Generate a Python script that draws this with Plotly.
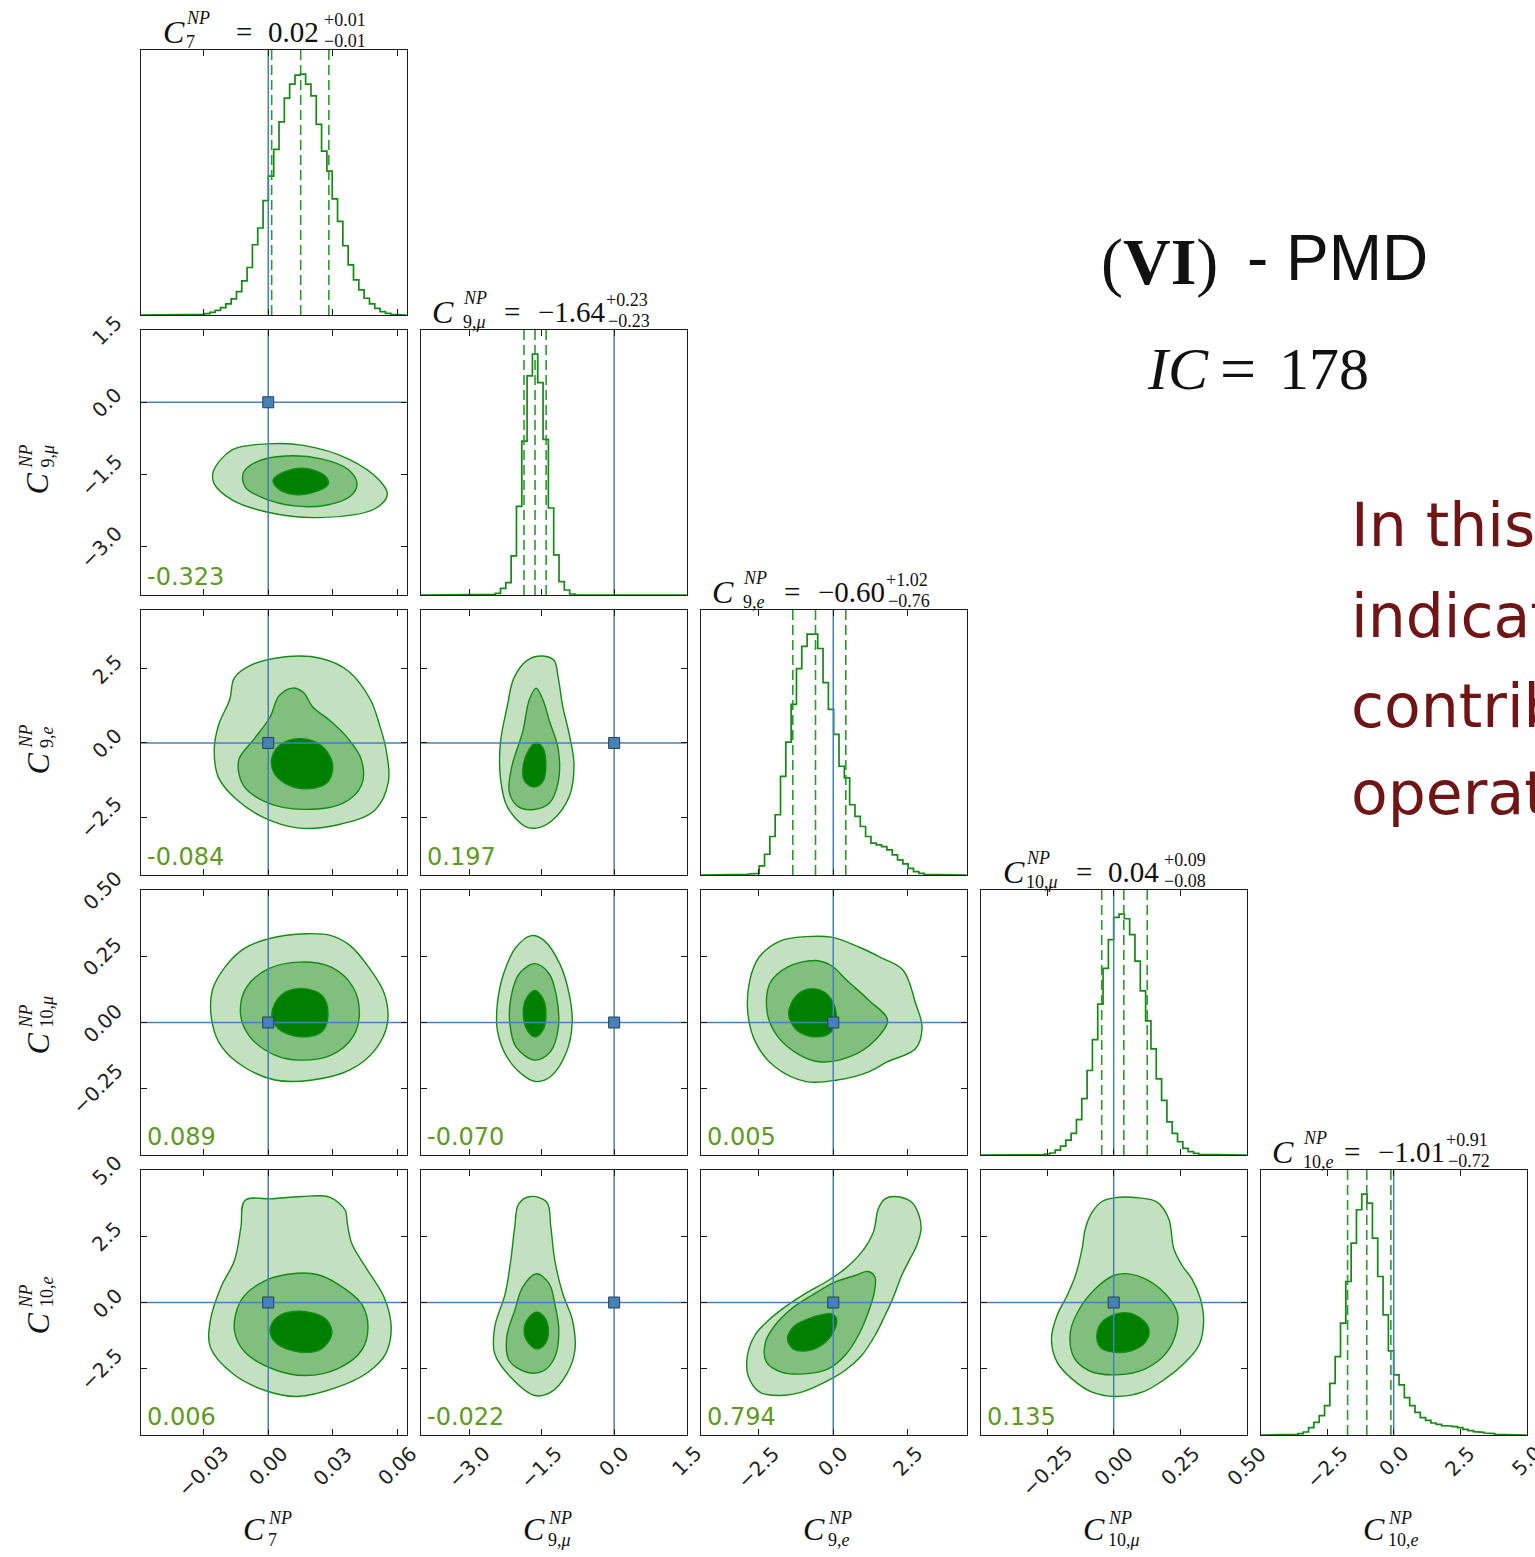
import numpy as np
import plotly.graph_objects as go

W, H = 1535, 1557

# ---------------------------------------------------------------- data
sub_labels = ["7", "9,<i>μ</i>", "9,<i>e</i>", "10,<i>μ</i>", "10,<i>e</i>"]
sub_len = [10, 24, 23, 34, 33]
limits = [[-0.0593, 0.0644], [-4.0, 1.5], [-4.45, 4.48], [-0.5, 0.5], [-5.0, 5.0]]
tick_values = [[-0.03, 0.0, 0.03, 0.06], [-3.0, -1.5, 0.0, 1.5], [-2.5, 0.0, 2.5],
               [-0.25, 0.0, 0.25, 0.5], [-2.5, 0.0, 2.5, 5.0]]
tick_labels = [["−0.03", "0.00", "0.03", "0.06"], ["−3.0", "−1.5", "0.0", "1.5"],
               ["−2.5", "0.0", "2.5"], ["−0.25", "0.00", "0.25", "0.50"],
               ["−2.5", "0.0", "2.5", "5.0"]]
truth = [0.0, 0.0, 0.0, 0.0, 0.0]

median = [0.0151, -1.636, -0.596, 0.038, -1.012]
err_hi = [0.0131, 0.230, 1.018, 0.088, 0.906]
err_lo = [0.0135, 0.228, 0.762, 0.083, 0.722]

# 1D marginal histograms (50 bins spanning each parameter's plot limits)
hist_c7 = [0, 0, 0, 0, 0, 0, 1, 1, 1, 1, 2, 2, 4, 8, 14, 22, 33, 48, 70, 102,
           142, 210, 260, 342, 415, 495, 577, 648, 690, 717, 720, 690, 655, 570, 490, 430,
           347, 280, 207, 150, 105, 75, 50, 33, 20, 10, 5, 2, 0, 0]
hist_c9mu = [0, 0, 0, 0, 0, 0, 0, 0, 0, 0, 0, 0, 0, 2, 5, 20, 37, 117, 265, 460,
             655, 720, 635, 465, 260, 120, 40, 15, 3, 0, 0, 0, 0, 0, 0, 0,
             0, 0, 0, 0, 0, 0, 0, 0, 0, 0, 0, 0, 0, 0]
hist_c9e = [0, 0, 0, 0, 0, 0, 0, 1, 2, 3, 5, 27, 62, 115, 180, 295, 397, 510, 617, 683,
            720, 720, 677, 575, 495, 420, 325, 290, 210, 175, 145, 115, 95, 90, 85, 75,
            60, 45, 33, 20, 10, 5, 2, 1, 0, 0, 0, 0, 0, 0]
hist_c10mu = [0, 0, 0, 0, 0, 0, 0, 0, 0, 0, 0, 1, 3, 6, 15, 27, 45, 65, 107, 170,
              255, 348, 455, 563, 650, 717, 727, 713, 665, 585, 495, 405, 320, 230, 165, 100,
              65, 40, 20, 10, 5, 2, 1, 0, 0, 0, 0, 0, 0, 0]
hist_c10e = [0, 0, 0, 0, 1, 2, 2, 4, 9, 22, 38, 58, 88, 155, 235, 335, 460, 575, 675, 722,
             695, 590, 475, 360, 252, 180, 150, 112, 88, 68, 52, 44, 36, 32, 28, 27,
             25, 22, 17, 13, 10, 8, 6, 4, 2, 1, 0, 0, 0, 0]

# 2D credible-region outlines (outer, middle, inner), x then y values
c7_c9mu = dict(
    outer=([-0.0255, -0.0168, -0.0002, 0.0164, 0.0372, 0.0517, 0.0554, 0.0496, 0.0227, -0.0002, -0.0168, -0.0251],
           [-1.433, -0.99, -0.864, -0.895, -1.175, -1.619, -1.913, -2.21, -2.394, -2.282, -2.025, -1.693]),
    mid=([-0.0116, -0.0054, 0.0081, 0.0247, 0.0372, 0.0413, 0.0382, 0.0268, 0.0122, -0.0023, -0.0106],
         [-1.47, -1.235, -1.115, -1.175, -1.396, -1.693, -1.951, -2.136, -2.151, -1.988, -1.767]),
    inner=([0.0023, 0.0081, 0.0185, 0.0268, 0.0278, 0.0206, 0.0122, 0.005],
           [-1.619, -1.433, -1.381, -1.544, -1.707, -1.876, -1.913, -1.802]))
c7_c9e = dict(
    outer=([0.0081, -0.0085, -0.0158, -0.0179, -0.023, -0.0251, -0.023, -0.0147, -0.0023, 0.0143, 0.033, 0.0496,
            0.0559, 0.0548, 0.0517, 0.0475, 0.0372, 0.0247],
           [2.906, 2.604, 2.185, 1.463, 0.621, -0.221, -1.185, -1.906, -2.507, -2.869, -2.748, -2.265,
            -1.305, -0.221, 0.621, 1.463, 2.426, 2.846]),
    mid=([0.0112, 0.005, 0.0008, -0.0064, -0.0137, -0.0116, -0.0002, 0.0164, 0.0351, 0.0434, 0.0434, 0.0372,
          0.0289, 0.0206, 0.0164],
         [1.849, 1.587, 0.866, 0.144, -0.577, -1.419, -2.02, -2.238, -2.02, -1.419, -0.577, 0.144,
          0.742, 1.221, 1.701]),
    inner=([0.0019, 0.006, 0.0153, 0.0247, 0.0299, 0.0278, 0.0185, 0.0081, 0.0023],
           [-0.463, -0.04, 0.144, -0.087, -0.701, -1.305, -1.544, -1.369, -0.943]))
c9mu_c9e = dict(
    outer=([-1.476, -1.798, -2.074, -2.212, -2.351, -2.351, -2.212, -1.843, -1.614, -1.293, -0.924, -0.831,
            -0.924, -1.062, -1.155, -1.245],
           [2.93, 2.785, 2.185, 1.221, 0.02, -1.185, -2.148, -2.809, -2.869, -2.628, -1.785, -0.701,
            0.258, 1.221, 2.185, 2.785]),
    mid=([-1.614, -1.753, -1.891, -2.12, -2.167, -1.981, -1.66, -1.338, -1.155, -1.155, -1.338, -1.476],
         [1.849, 1.463, 0.379, -0.822, -1.664, -2.148, -2.245, -2.027, -1.305, -0.221, 0.742, 1.463]),
    inner=([-1.614, -1.798, -1.891, -1.843, -1.66, -1.476, -1.412, -1.476],
           [0.02, -0.339, -0.943, -1.305, -1.483, -1.305, -0.701, -0.161]))
c7_c10mu = dict(
    outer=([0.0177, 0.0002, -0.0114, -0.0201, -0.026, -0.026, -0.0216, -0.0114, 0.0031, 0.0206, 0.038, 0.0496,
            0.0554, 0.054, 0.0467, 0.038, 0.0293],
           [0.335, 0.316, 0.278, 0.209, 0.121, -0.004, -0.092, -0.167, -0.217, -0.217, -0.179, -0.104,
            -0.004, 0.109, 0.209, 0.291, 0.328]),
    mid=([0.0147, 0.0002, -0.01, -0.0129, -0.0085, 0.0031, 0.0147, 0.0293, 0.0394, 0.0424, 0.0394, 0.0293],
         [0.228, 0.203, 0.134, 0.034, -0.054, -0.123, -0.142, -0.123, -0.054, 0.034, 0.134, 0.209]),
    inner=([0.0147, 0.006, 0.0017, 0.0046, 0.0147, 0.0249, 0.0278, 0.0249],
           [0.128, 0.103, 0.034, -0.023, -0.054, -0.035, 0.034, 0.103]))
c9mu_c10mu = dict(
    outer=([-1.706, -2.029, -2.286, -2.415, -2.415, -2.221, -1.835, -1.603, -1.32, -0.998, -0.868, -0.932,
            -1.126, -1.447],
           [0.328, 0.284, 0.184, 0.071, -0.029, -0.129, -0.205, -0.223, -0.205, -0.117, -0.004, 0.109,
            0.222, 0.309]),
    mid=([-1.641, -1.963, -2.132, -2.157, -2.029, -1.641, -1.32, -1.153, -1.19, -1.344],
         [0.222, 0.184, 0.096, -0.004, -0.092, -0.142, -0.111, -0.017, 0.096, 0.184]),
    inner=([-1.641, -1.835, -1.874, -1.796, -1.641, -1.474, -1.41, -1.474],
           [0.121, 0.084, 0.021, -0.029, -0.054, -0.029, 0.034, 0.09]))
c9e_c10mu = dict(
    outer=([-0.908, -1.749, -2.486, -2.802, -2.866, -2.59, -1.961, -0.908, 0.141, 1.194, 1.823, 2.768,
            2.98, 2.768, 2.348, 1.615, 0.878, -0.067],
           [0.324, 0.309, 0.247, 0.159, 0.034, -0.079, -0.167, -0.223, -0.217, -0.186, -0.148, -0.098,
            -0.017, 0.071, 0.197, 0.244, 0.284, 0.322]),
    mid=([-0.595, -1.541, -2.129, -2.213, -1.857, -1.12, -0.488, 0.562, 1.403, 1.823, 1.194, 0.457, -0.067],
         [0.234, 0.209, 0.147, 0.034, -0.054, -0.123, -0.148, -0.129, -0.067, 0.009, 0.084, 0.159, 0.215]),
    inner=([-0.7, -1.224, -1.497, -1.224, -0.595, -0.067, 0.101, -0.175],
           [0.128, 0.103, 0.034, -0.029, -0.054, -0.035, 0.034, 0.103]))
c7_c10e = dict(
    outer=([-0.0108, 0.0023, 0.0154, 0.0285, 0.0359, 0.0367, 0.0389, 0.0453, 0.0539, 0.0572, 0.0546, 0.0464,
            0.0322, 0.0135, -0.0014, -0.0164, -0.0269, -0.0269, -0.022, -0.0157, -0.0127],
           [3.849, 3.913, 4.0, 3.974, 3.472, 3.03, 2.215, 1.332, 0.2, -0.932, -1.936, -2.63,
            -3.196, -3.547, -3.321, -2.691, -1.687, -0.679, 0.577, 1.585, 2.842]),
    mid=([0.0135, -0.0014, -0.0127, -0.0157, -0.0108, 0.0041, 0.0173, 0.0322, 0.0434, 0.0464, 0.0434, 0.0322,
          0.0228],
         [1.106, 0.83, 0.075, -1.057, -1.875, -2.566, -2.755, -2.502, -1.811, -0.932, -0.049, 0.706, 1.057]),
    inner=([0.0142, 0.0041, 0.0008, 0.0041, 0.0153, 0.0247, 0.0296, 0.0266],
           [-0.328, -0.555, -1.057, -1.558, -1.875, -1.747, -1.181, -0.615]))
c9mu_c10e = dict(
    outer=([-1.724, -1.973, -2.056, -2.138, -2.254, -2.47, -2.47, -2.138, -1.641, -1.309, -0.979, -0.812,
            -0.862, -1.062, -1.227, -1.309, -1.392],
           [4.0, 3.725, 2.842, 1.585, 0.328, -0.932, -1.936, -2.819, -3.509, -3.385, -2.691, -1.811,
            -0.679, 0.328, 1.585, 2.842, 3.785]),
    mid=([-1.608, -1.891, -2.056, -2.221, -2.171, -1.806, -1.476, -1.227, -1.144, -1.227, -1.342],
         [1.083, 0.577, -0.302, -1.309, -2.189, -2.63, -2.593, -2.064, -1.057, -0.049, 0.706]),
    inner=([-1.608, -1.806, -1.856, -1.724, -1.592, -1.427, -1.359, -1.443],
           [-0.366, -0.679, -1.181, -1.623, -1.747, -1.558, -1.057, -0.555]))
c9e_c10e = dict(
    outer=([2.074, 2.635, 2.881, 2.948, 2.803, 2.578, 2.298, 2.018, 1.738, 1.401, 0.953, 0.392, -0.28, -1.065,
            -1.85, -2.466, -2.859, -2.881, -2.635, -2.242, -1.626, -0.953, -0.168, 0.392, 0.953, 1.345,
            1.513, 1.738],
           [4.0, 3.786, 3.283, 2.78, 2.151, 1.648, 1.019, 0.201, -0.491, -1.245, -2.0, -2.566, -3.006, -3.384,
            -3.509, -3.384, -2.755, -2.0, -1.245, -0.742, -0.176, 0.327, 0.83, 1.27, 1.899, 2.654,
            3.535, 3.912]),
    mid=([1.177, 1.401, 1.379, 1.177, 0.841, 0.392, -0.168, -0.953, -1.738, -2.242, -2.276, -1.962, -1.401,
          -0.729, 0.056, 0.729],
         [1.17, 0.956, 0.39, -0.365, -1.245, -2.0, -2.503, -2.692, -2.629, -2.252, -1.497, -0.868, -0.239,
          0.264, 0.767, 1.019]),
    inner=([-0.056, 0.112, 0.0, -0.336, -0.841, -1.345, -1.536, -1.345, -0.841, -0.336],
           [-0.428, -0.616, -1.119, -1.56, -1.811, -1.748, -1.371, -0.931, -0.616, -0.453]))
c10mu_c10e = dict(
    outer=([0.0, 0.094, 0.163, 0.207, 0.226, 0.257, 0.294, 0.326, 0.338, 0.32, 0.269, 0.194, 0.107, 0.006,
            -0.081, -0.157, -0.213, -0.234, -0.213, -0.175, -0.144, -0.119, -0.107, -0.081, -0.044],
           [3.95, 3.95, 3.786, 3.157, 2.025, 1.396, 0.893, 0.138, -0.742, -1.623, -2.252, -2.881, -3.384, -3.547,
            -3.384, -2.881, -2.252, -1.371, -0.491, 0.264, 1.019, 2.025, 2.78, 3.409, 3.811]),
    mid=([0.056, 0.119, 0.194, 0.238, 0.238, 0.2, 0.119, 0.006, -0.094, -0.15, -0.163, -0.132, -0.069, 0.0],
         [1.082, 0.893, 0.327, -0.365, -0.994, -1.874, -2.503, -2.73, -2.566, -2.063, -1.119, -0.302, 0.516,
          1.019]),
    inner=([0.031, 0.094, 0.132, 0.119, 0.069, 0.0, -0.05, -0.063, -0.038],
           [-0.39, -0.553, -0.994, -1.497, -1.811, -1.874, -1.686, -1.182, -0.679]))

corr_pairs = [(1, 0), (2, 0), (2, 1), (3, 0), (3, 1), (3, 2), (4, 0), (4, 1), (4, 2), (4, 3)]
corr_values = [-0.323, -0.084, 0.197, 0.089, -0.070, 0.005, 0.006, -0.022, 0.794, 0.135]

side_title = "VI"
ic_value = 178
note_lines = ["In this", "indicat", "contrib", "operat"]

# ---------------------------------------------------------------- styling
hists = [hist_c7, hist_c9mu, hist_c9e, hist_c10mu, hist_c10e]
contours = {(1, 0): c7_c9mu, (2, 0): c7_c9e, (2, 1): c9mu_c9e, (3, 0): c7_c10mu, (3, 1): c9mu_c10mu,
            (3, 2): c9e_c10mu, (4, 0): c7_c10e, (4, 1): c9mu_c10e, (4, 2): c9e_c10e, (4, 3): c10mu_c10e}

SERIF = "Liberation Serif"
SANS = "DejaVu Sans"
GREEN = "#148a14"
FILLS = {"outer": "#c3e1c0", "mid": "#80bf7d", "inner": "#008000"}
TRUTH = "#4682b4"
CORR_GREEN = "#5e9a22"
FRAME = "#1c1c1c"
N = 5
L0, T0, PW, PH, PITCH = 140.7, 50.0, 266.0, 265.0, 280.0


def px(v):
    return v / W


def py(v):
    return 1 - v / H


def idx(r, c):
    return r * N + c + 1


def xname(n):
    return "x" if n == 1 else f"x{n}"


def yname(n):
    return "y" if n == 1 else f"y{n}"


def fmt(v):
    s = f"{abs(v):.2f}"
    return ("−" + s) if v < 0 else s


fig = go.Figure()
layout_axes = {}
annotations = []


def ann(text, x, y, size, family=SERIF, xanchor="left", yanchor="middle", angle=0,
        color="#111111", xref="paper", yref="paper"):
    annotations.append(dict(text=text, x=x, y=y, xref=xref, yref=yref, showarrow=False,
                            font=dict(size=size, family=family, color=color),
                            xanchor=xanchor, yanchor=yanchor, textangle=angle, borderpad=0))


for r in range(N):
    for c in range(r + 1):
        n = idx(r, c)
        xa, ya = xname(n), yname(n)
        left = L0 + PITCH * c
        top = T0 + PITCH * r
        xaxis = dict(domain=[px(left), px(left + PW)], range=limits[c], anchor=ya,
                     showgrid=False, zeroline=False, showline=True, linecolor=FRAME, linewidth=1.4,
                     mirror="allticks", ticks="inside", ticklen=6, tickwidth=1.2, tickcolor=FRAME,
                     tickvals=tick_values[c], showticklabels=False, fixedrange=True)
        yaxis = dict(domain=[py(top + PH), py(top)], anchor=xa, showgrid=False, zeroline=False,
                     showline=True, linecolor=FRAME, linewidth=1.4, showticklabels=False, fixedrange=True)
        if r == c:
            h = hists[c]
            ymax = 1.1 * max(h)
            yaxis.update(range=[0, ymax], ticks="", mirror=True)
            edges = np.linspace(limits[c][0], limits[c][1], len(h) + 1)
            sx, sy = [edges[0]], [0]
            for k, v in enumerate(h):
                sx += [edges[k], edges[k + 1]]
                sy += [v, v]
            sx.append(edges[-1])
            sy.append(0)
            fig.add_trace(go.Scatter(x=sx, y=sy, mode="lines", line=dict(color=GREEN, width=1.7),
                                     xaxis=xa, yaxis=ya, hoverinfo="skip"))
            q = [median[c] - err_lo[c], median[c], median[c] + err_hi[c]]
            for qv in q:
                fig.add_trace(go.Scatter(x=[qv, qv], y=[0, ymax], mode="lines",
                                         line=dict(color="#2a9a2a", width=1.6, dash="10px,5px"),
                                         xaxis=xa, yaxis=ya, hoverinfo="skip"))
            fig.add_trace(go.Scatter(x=[truth[c], truth[c]], y=[0, ymax], mode="lines",
                                     line=dict(color=TRUTH, width=1.5), xaxis=xa, yaxis=ya, hoverinfo="skip"))
            # title: C^NP_sub = median^{+hi}_{-lo}
            neg = median[c] < 0
            o = dict(C=10, sc=41, eq=82, val=116, sup=184, sub=186) if neg else \
                dict(C=21, sc=44, eq=94, val=126, sup=182, sub=182)
            ann("<i>C</i>", px(left + o["C"]), py(top - 18), 32)
            ann("<i>NP</i>", px(left + o["sc"]), py(top - 32), 18)
            ann(sub_labels[c], px(left + o["sc"]), py(top - 8), 18)
            ann("=", px(left + o["eq"]), py(top - 18), 29)
            ann(fmt(median[c]), px(left + o["val"]), py(top - 18), 29)
            ann("+" + fmt(err_hi[c]), px(left + o["sup"]), py(top - 30), 18)
            ann("−" + fmt(err_lo[c]), px(left + o["sub"]), py(top - 9), 18)
        else:
            yaxis.update(range=limits[r], ticks="inside", ticklen=6, tickwidth=1.2, tickcolor=FRAME,
                         mirror="allticks", tickvals=tick_values[r])
            cont = contours[(r, c)]
            for level in ["outer", "mid", "inner"]:
                xs, ys = cont[level]
                xs = list(xs) + [xs[0]]
                ys = list(ys) + [ys[0]]
                fig.add_trace(go.Scatter(x=xs, y=ys, mode="lines", fill="toself",
                                         fillcolor=FILLS[level],
                                         line=dict(color=GREEN, width=1.4, shape="spline", smoothing=1.0),
                                         xaxis=xa, yaxis=ya, hoverinfo="skip"))
            fig.add_trace(go.Scatter(x=[truth[c], truth[c]], y=limits[r], mode="lines",
                                     line=dict(color=TRUTH, width=1.5), xaxis=xa, yaxis=ya, hoverinfo="skip"))
            fig.add_trace(go.Scatter(x=limits[c], y=[truth[r], truth[r]], mode="lines",
                                     line=dict(color=TRUTH, width=1.5), xaxis=xa, yaxis=ya, hoverinfo="skip"))
            fig.add_trace(go.Scatter(x=[truth[c]], y=[truth[r]], mode="markers",
                                     marker=dict(symbol="square", size=11, color=TRUTH,
                                                 line=dict(color="#23415e", width=1)),
                                     xaxis=xa, yaxis=ya, hoverinfo="skip"))
            ci = corr_pairs.index((r, c))
            ann(f"{corr_values[ci]:.3f}", 0, 0, 24, family=SANS, color=CORR_GREEN, yanchor="bottom",
                xref=f"{xa} domain", yref=f"{ya} domain")
            annotations[-1].update(xshift=5, yshift=3)
        layout_axes["xaxis" if n == 1 else f"xaxis{n}"] = xaxis
        layout_axes["yaxis" if n == 1 else f"yaxis{n}"] = yaxis

# tick labels, rotated as in the classic corner layout
bottom = T0 + PITCH * (N - 1) + PH
for c in range(N):
    n = idx(N - 1, c)
    for v, t in zip(tick_values[c], tick_labels[c]):
        ann(t, v, py(bottom + 5), 20, family=SANS, xanchor="center", yanchor="top", angle=-45,
            color="#222222", xref=xname(n))
for r in range(1, N):
    n = idx(r, 0)
    for v, t in zip(tick_values[r], tick_labels[r]):
        ann(t, px(L0 - 12), v, 20, family=SANS, xanchor="right", yanchor="middle", angle=-45,
            color="#222222", yref=yname(n))

# axis titles
for c in range(N):
    cx = L0 + PITCH * c + PW / 2
    ann("<i>C</i>", px(cx - 32), py(1529), 32)
    ann("<i>NP</i>", px(cx - 7), py(1518), 18)
    ann(sub_labels[c], px(cx - 7), py(1540), 18)
for r in range(1, N):
    cy = T0 + PITCH * r + PH / 2
    ann("<i>C</i>", px(37), py(cy + 21), 32, xanchor="center", angle=-90)
    ann("<i>NP</i>", px(25), py(cy + 6 - 12), 18, xanchor="center", angle=-90)
    ann(sub_labels[r], px(47), py(cy + 6 - sub_len[r] / 2), 18, xanchor="center", angle=-90)

# heading text on the right
ann(f"(<b>{side_title}</b>)", px(1100), py(262), 66)
ann("- PMD", px(1246), py(258), 64, family="Liberation Sans")
ann("<i>IC</i>", px(1146), py(369), 60)
ann("=", px(1219), py(369), 64)
ann(str(ic_value), px(1278), py(369), 60)
for i, line in enumerate(note_lines):
    ann(line, px(1350), py([525, 616, 706, 793][i]), 60, family=SANS, color="#701515")

fig.update_layout(width=W, height=H, margin=dict(l=0, r=0, t=0, b=0), paper_bgcolor="white",
                  plot_bgcolor="white", showlegend=False, annotations=annotations, **layout_axes)
fig.write_html("out.html")
